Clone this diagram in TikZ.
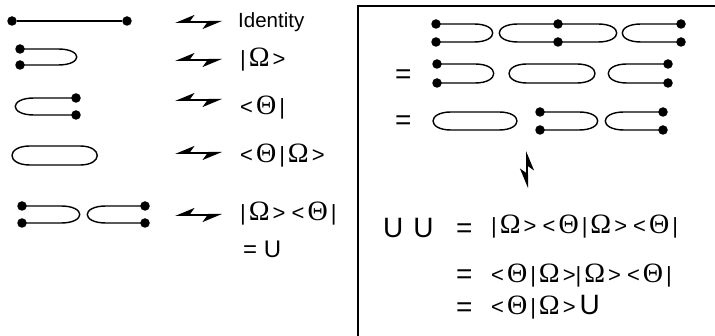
\documentclass[tikz,border=0pt]{standalone}
\usepackage{fontspec}
\setmainfont{Liberation Sans}
\newfontfamily\grkfont{Liberation Serif}
\usetikzlibrary{arrows.meta}
\newcommand{\Om}{\kern3pt{\grkfont\fontsize{28}{28}\selectfont Ω}\kern3pt}
\newcommand{\Th}{\kern3pt{\grkfont\fontsize{28}{28}\selectfont Θ}\kern3pt}

\begin{document}
\begin{tikzpicture}[x=1pt,y=-1pt,
    dot/.style={circle, fill=black, inner sep=0pt, minimum size=9.5pt},
    wire/.style={line width=1.4pt},
    harp/.style={line width=2pt, {Stealth[harpoon,swap,length=17pt,width=14pt,inset=5pt]}-{Stealth[harpoon,swap,length=17pt,width=14pt,inset=5pt]}},
    lbl/.style={anchor=base west, inner sep=0pt, font=\fontsize{22}{26}\selectfont},
    big/.style={anchor=base west, inner sep=0pt, font=\fontsize{28}{30}\selectfont}
  ]
  \useasboundingbox (0,0) rectangle (715,336);
  % frame of the right panel
  \draw[line width=1.6pt] (358,336) |- (716,6);

  % ---- left column: dictionary
  \node[dot] (id1) at (12,21) {};
  \node[dot] (id2) at (127,21) {};
  \draw[wire] (id1) -- (id2);

  \node[dot] (ka) at (20,49) {};
  \node[dot] (kb) at (20,65) {};
  \draw[wire] (ka.center) -- ++(38,0) .. controls +(25,0) and +(25,0) .. ([xshift=38pt]kb.center) -- (kb.center);

  \node[dot] (ba) at (76,98) {};
  \node[dot] (bb) at (76,115) {};
  \draw[wire] (ba.center) -- ++(-42,0) .. controls +(-25,0) and +(-25,0) .. ([xshift=-42pt]bb.center) -- (bb.center);

  \draw[wire] (30,146) -- (80,146) .. controls +(23,0) and +(23,0) .. (80,165) -- (30,165) .. controls +(-24,0) and +(-24,0) .. (30,146);

  \node[dot] (ua) at (22,206) {};
  \node[dot] (ub) at (22,223) {};
  \draw[wire] (ua.center) -- ++(39,0) .. controls +(25,0) and +(25,0) .. ([xshift=39pt]ub.center) -- (ub.center);
  \node[dot] (uc) at (145,206) {};
  \node[dot] (ud) at (145,223) {};
  \draw[wire] (uc.center) -- ++(-39,0) .. controls +(-25,0) and +(-25,0) .. ([xshift=-39pt]ud.center) -- (ud.center);

  \coordinate (h1l) at (175,22);  \coordinate (h1r) at (222,22);
  \coordinate (h2l) at (175,60);  \coordinate (h2r) at (222,60);
  \coordinate (h3l) at (175,100); \coordinate (h3r) at (222,100);
  \coordinate (h4l) at (175,153); \coordinate (h4r) at (222,153);
  \coordinate (h5l) at (175,215); \coordinate (h5r) at (222,215);
  \draw[harp] (h1l) -- (h1r);
  \draw[harp] (h2l) -- (h2r);
  \draw[harp] (h3l) -- (h3r);
  \draw[harp] (h4l) -- (h4r);
  \draw[harp] (h5l) -- (h5r);

  \node[lbl, font=\fontsize{20.5}{24}\selectfont] (tid) at (238,28) {Identity};
  \node[lbl] (tket) at (240,67) {|\Om>};
  \node[lbl] (tbra) at (240,115) {<\Th|};
  \node[lbl] (tamp) at (240,163) {<\Th|\Om>};
  \node[lbl] (tU) at (240,221) {|\Om> <\Th|};
  \node[lbl, font=\fontsize{24}{26}\selectfont] (teqU) at (243,258) {= U};

  % ---- right panel: U U
  \node[dot] (a1) at (436,24) {};
  \node[dot] (a2) at (436,42) {};
  \node[dot] (a3) at (558,24) {};
  \node[dot] (a4) at (558,42) {};
  \node[dot] (a5) at (681,24) {};
  \node[dot] (a6) at (681,42) {};
  \draw[wire] (a1.center) -- ++(38,0) .. controls +(25,0) and +(25,0) .. ([xshift=38pt]a2.center) -- (a2.center);
  \draw[wire] (a3.center) -- ++(-40,0) .. controls +(-25,0) and +(-25,0) .. ([xshift=-40pt]a4.center) -- (a4.center);
  \draw[wire] (a3.center) -- ++(40,0) .. controls +(25,0) and +(25,0) .. ([xshift=40pt]a4.center) -- (a4.center);
  \draw[wire] (a5.center) -- ++(-40,0) .. controls +(-25,0) and +(-25,0) .. ([xshift=-40pt]a6.center) -- (a6.center);

  \node[big] (eq1) at (395,84) {=};
  \node[dot] (b1) at (437,64) {};
  \node[dot] (b2) at (437,83) {};
  \node[dot] (b3) at (668,64) {};
  \node[dot] (b4) at (668,83) {};
  \draw[wire] (b1.center) -- ++(38,0) .. controls +(25,0) and +(25,0) .. ([xshift=38pt]b2.center) -- (b2.center);
  \draw[wire] (527,64) -- (577,64) .. controls +(24,0) and +(24,0) .. (577,83) -- (527,83) .. controls +(-24,0) and +(-24,0) .. (527,64);
  \draw[wire] (b3.center) -- ++(-41,0) .. controls +(-25,0) and +(-25,0) .. ([xshift=-41pt]b4.center) -- (b4.center);

  \node[big] (eq2) at (395,130) {=};
  \draw[wire] (451,112) -- (499,112) .. controls +(24,0) and +(24,0) .. (499,130) -- (451,130) .. controls +(-24,0) and +(-24,0) .. (451,112);
  \node[dot] (c1) at (540,112) {};
  \node[dot] (c2) at (540,130) {};
  \node[dot] (c3) at (663,112) {};
  \node[dot] (c4) at (663,130) {};
  \draw[wire] (c1.center) -- ++(39,0) .. controls +(25,0) and +(25,0) .. ([xshift=39pt]c2.center) -- (c2.center);
  \draw[wire] (c3.center) -- ++(-39,0) .. controls +(-25,0) and +(-25,0) .. ([xshift=-39pt]c4.center) -- (c4.center);

  \coordinate (vt) at (527,151);
  \coordinate (vb) at (527,188);
  \draw[harp] (vt) -- (vb);

  \node[big] (uu) at (383,238) {U\hspace{10pt}U};
  \node[big] (eq3) at (456,238) {=};
  \node[lbl] (r1) at (491,234) {|\Om> <\Th|\Om> <\Th|};
  \node[big] (eq4) at (456,284) {=};
  \node[lbl] (r2) at (491,283) {<\Th|\Om>|\Om> <\Th|};
  \node[big] (eq5) at (456,317) {=};
  \node[lbl] (r3) at (491,315) {<\Th|\Om>\kern4pt{\fontsize{28}{30}\selectfont U}};
\end{tikzpicture}
\end{document}
